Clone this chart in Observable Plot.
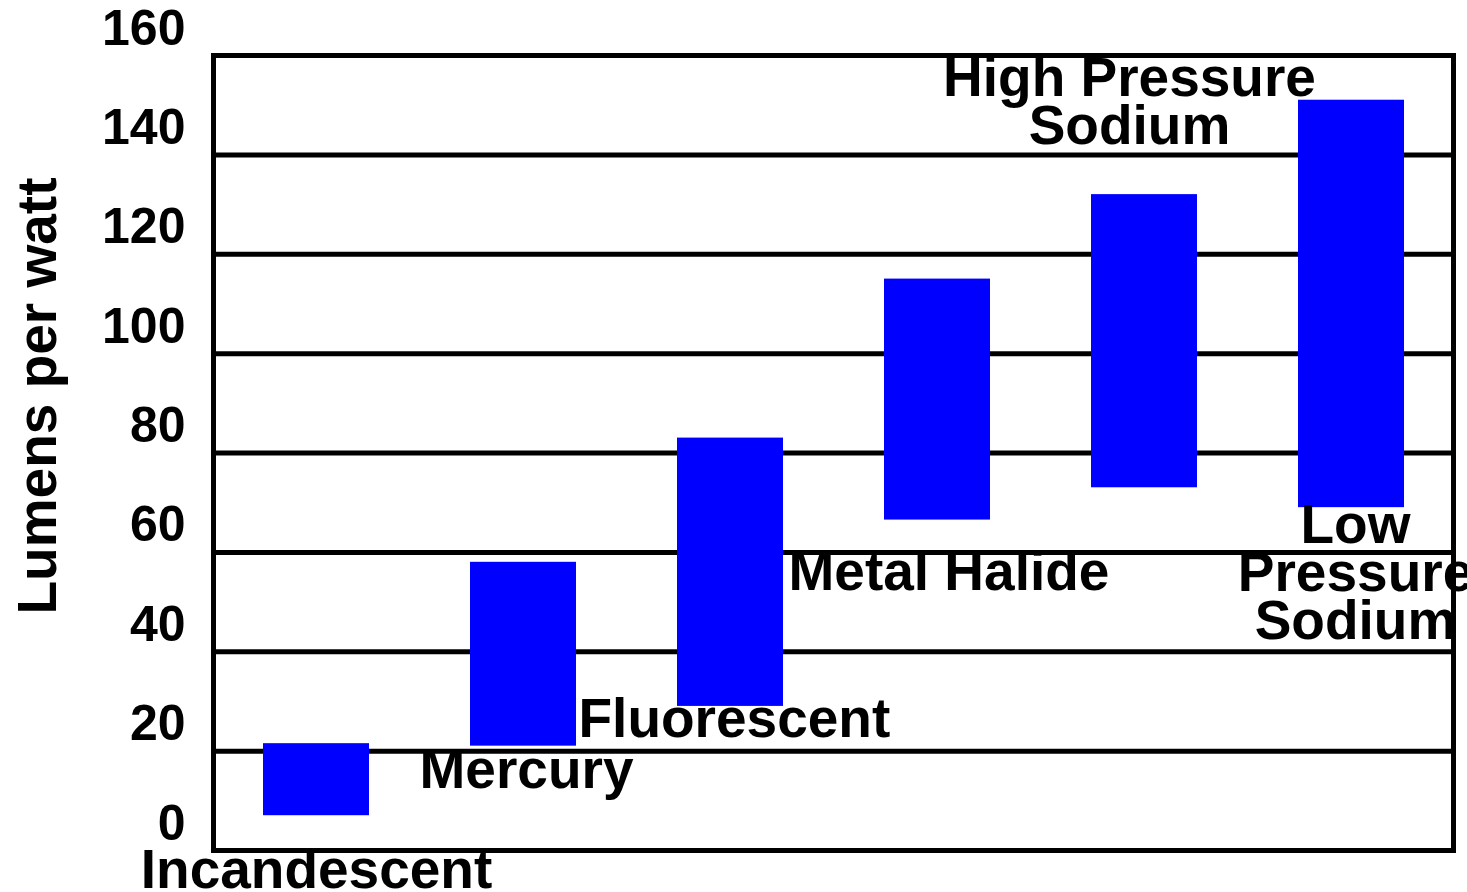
<!DOCTYPE html>
<html>
<head>
<meta charset="utf-8">
<script src="https://cdn.jsdelivr.net/npm/d3@7"></script>
<script src="https://cdn.jsdelivr.net/npm/@observablehq/plot@0.6"></script>
<style>
  html, body { margin: 0; padding: 0; background: #fff; }
  #chart { width: 1467px; height: 892px; overflow: hidden; }
</style>
</head>
<body>
<div id="chart"></div>
<script>
// Lamp types and efficacy ranges (lumens per watt)
const lamps = ["Incandescent", "Mercury", "Fluorescent", "Metal Halide", "High Pressure Sodium", "Low Pressure Sodium"];
const lowValues = [7, 21, 29, 66.5, 73, 69];
const highValues = [21.5, 58, 83, 115, 132, 151];
const labelTexts = ["Incandescent", "Mercury", "Fluorescent", "Metal Halide", "High Pressure\nSodium", "Low\nPressure\nSodium"];
const yTicks = [0, 20, 40, 60, 80, 100, 120, 140, 160];
const gridTicks = [20, 40, 60, 80, 100, 120, 140];
const yLabel = "Lumens per watt";

const data = lamps.map((name, i) => ({name, low: lowValues[i], high: highValues[i], label: labelTexts[i]}));

// label placement (anchor category, anchor value, pixel offsets)
const place = {
  "Incandescent":         {x: "Incandescent", v: "low",  dx: 0,   dy: 57,  anchor: "middle"},
  "Mercury":              {x: "Mercury",      v: "low",  dx: 3,   dy: 26,  anchor: "middle"},
  "Fluorescent":          {x: "Mercury",      v: "low",  dx: 55,  dy: 15,  anchor: "start", vFrom: "Fluorescent"},
  "Metal Halide":         {x: "Fluorescent",  v: "low",  dx: 58,  dy: 55,  anchor: "start", vFrom: "Metal Halide"},
  "High Pressure Sodium": {x: "High Pressure Sodium", v: "high", dx: -15, dy: -90, anchor: "middle"},
  "Low Pressure Sodium":  {x: "Low Pressure Sodium",  v: "low",  dx: 4,   dy: 68,  anchor: "middle"}
};
const labels = data.map(d => {
  const p = place[d.name];
  const src = data.find(e => e.name === (p.vFrom || d.name));
  return {...d, lx: p.x, ly: src[p.v], dx: p.dx, dy: p.dy, anchor: p.anchor};
});

const font = "'Liberation Sans', Arial, sans-serif";

const textMarks = labels.map(l => Plot.text([l], {
  x: "lx", y: "ly", text: "label",
  dx: l.dx, dy: l.dy, textAnchor: l.anchor, lineAnchor: "middle",
  lineHeight: 0.875, fontSize: 55, fontWeight: "bold", fill: "black"
}));

const chart = Plot.plot({
  width: 1467,
  height: 892,
  marginLeft: 213,
  marginRight: 14,
  marginTop: 55,
  marginBottom: 42,
  style: {fontFamily: font, fontWeight: "bold", background: "white", overflow: "visible"},
  x: {domain: lamps, paddingInner: 0.49, paddingOuter: 0.24, axis: null},
  y: {domain: [0, 160], axis: null},
  marks: [
    Plot.gridY(gridTicks, {stroke: "black", strokeOpacity: 1, strokeWidth: 5}),
    Plot.barY(data, {x: "name", y1: "low", y2: "high", fill: "#0000ff"}),
    Plot.frame({stroke: "black", strokeWidth: 5}),
    Plot.axisY({ticks: yTicks, tickSize: 0, tickPadding: 28, dy: -27, fontSize: 50, fontWeight: "bold", label: null}),
    Plot.text([yLabel], {frameAnchor: "left", textAnchor: "middle", lineAnchor: "middle", rotate: -90, dx: -175, dy: -57, fontSize: 55, fontWeight: "bold", fill: "black"}),
    ...textMarks
  ]
});
document.getElementById("chart").appendChild(chart);
</script>
</body>
</html>
